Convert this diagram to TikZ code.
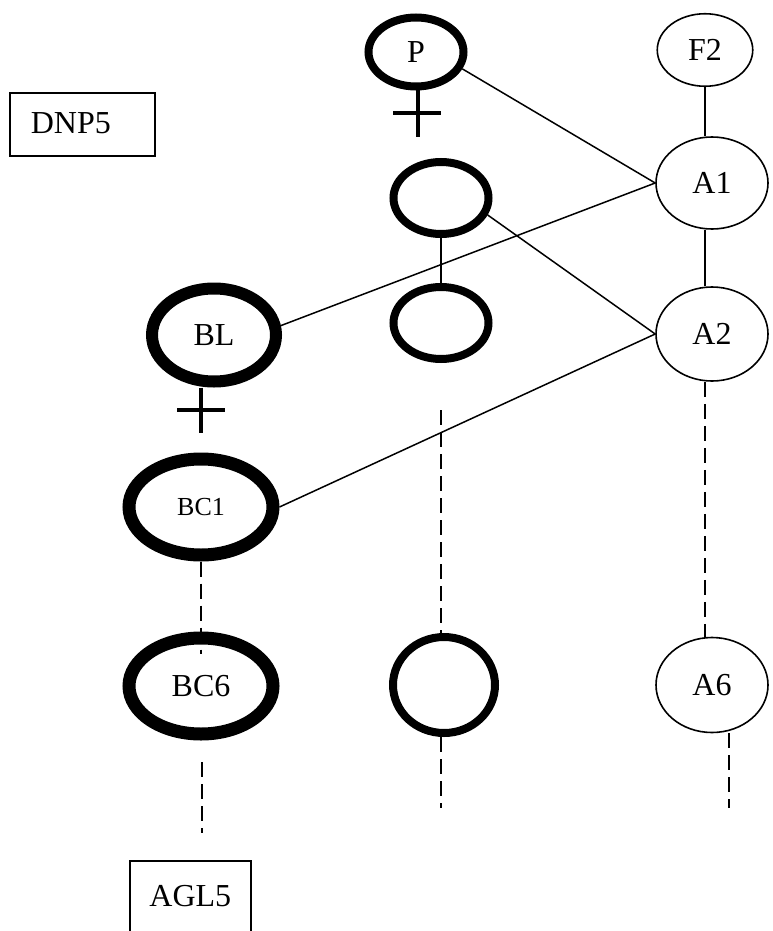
\documentclass[tikz,border=0pt]{standalone}
\usepackage{fontspec}
\setmainfont{Liberation Serif}
\usetikzlibrary{shapes.geometric}

\begin{document}
\begin{tikzpicture}[x=0.5pt,y=-0.5pt]
            \tikzset{oval/.style = {shape=ellipse, draw, line width=0.8pt, minimum width=56pt, minimum height=46pt, inner sep=0pt, font=\fontsize{16}{19}\selectfont}}
            \tikzset{boldoval/.style = {oval, line width=4pt, minimum width=47.5pt, minimum height=36pt}}
            \tikzset{heavyoval/.style = {oval, line width=6.5pt, minimum width=72pt, minimum height=48pt}}
            \tikzset{tag/.style = {draw, line width=0.8pt, inner ysep=0pt, font=\fontsize{16}{19}\selectfont}}
            \tikzset{link/.style = {draw, line width=0.75pt}}
            \tikzset{dashlink/.style = {draw, line width=0.9pt, dash pattern=on 7.5pt off 3.5pt}}
            \tikzset{sign/.style = {draw, line width=1.75pt}}
            \useasboundingbox (0,0) rectangle (772,931);
            % vertices
            \node[boldoval, minimum height=34.5pt] (P) at (416,52) {P};
            \node[oval, minimum width=47.75pt, minimum height=36.25pt] (F2) at (705,50) {F2};
            \node[oval] (A1) at (712,183) {A1};
            \node[oval, minimum height=47pt] (A2) at (712,334) {A2};
            \node[oval, minimum height=47.5pt] (A6) at (712,685) {A6};
            \node[boldoval] (mid1) at (441,198) {};
            \node[boldoval] (mid2) at (441,323) {};
            \node[boldoval, minimum width=51pt, minimum height=48pt] (mid3) at (444,685) {};
            \node[heavyoval, line width=6pt, minimum width=62pt, minimum height=46.5pt] (BL) at (214,335) {BL};
            \node[heavyoval, font=\fontsize{13}{15}\selectfont] (BC1) at (201,507) {BC1};
            \node[heavyoval] (BC6) at (201,686) {BC6};
            \node[tag, text width=51.5pt, align=left, inner xsep=10.5pt, text height=20.25pt, text depth=11.25pt, anchor=north west] (DNP5) at (9,92) {DNP5};
            \node[tag, minimum width=60.5pt, text height=22.75pt, text depth=30pt, anchor=north west] (AGL5) at (129,860) {AGL5};
            % free ends
            \coordinate (Pfoot) at (418,137);
            \coordinate (Pbarl) at (393,113);
            \coordinate (Pbarr) at (441,113);
            \coordinate (BLfoot) at (201,433);
            \coordinate (BLbarl) at (177,410);
            \coordinate (BLbarr) at (225,410);
            \coordinate (midtop) at (441,410);
            \coordinate (midend) at (441,808);
            \coordinate (A6end) at (729,808);
            \coordinate (BCtop) at (202,762);
            \coordinate (BCend) at (202,833);
            % edges
            \draw[link] (P.-20) to (A1.west);
            \draw[link] (A1.west) to (BL.8);
            \draw[link] (mid1.-20) to (A2.west);
            \draw[link] (A2.west) to (BC1.east);
            \draw[link] (F2) to (F2 |- A1.north);
            \draw[link] (A1.south -| F2) to (A2.north -| F2);
            \draw[link] (mid1) to (mid2);
            % dashed
            \draw[dashlink] (A2.south -| F2) to (A6.north -| F2);
            \draw[dashlink] (A6end |- A6.south) to (A6end);
            \draw[dashlink] (midtop) to (mid3.north -| midtop);
            \draw[dashlink] (mid3.south -| midend) to (midend);
            \draw[dashlink] (BC1.south) to ([yshift=-11pt]BC6.north);
            \draw[dashlink] (BCtop) to (BCend);
            % signs
            \draw[sign] (P.south -| Pfoot) to (Pfoot);
            \draw[sign] (Pbarl) to (Pbarr);
            \draw[sign] (BL.south -| BLfoot) to (BLfoot);
            \draw[sign] (BLbarl) to (BLbarr);
\end{tikzpicture}
\end{document}
